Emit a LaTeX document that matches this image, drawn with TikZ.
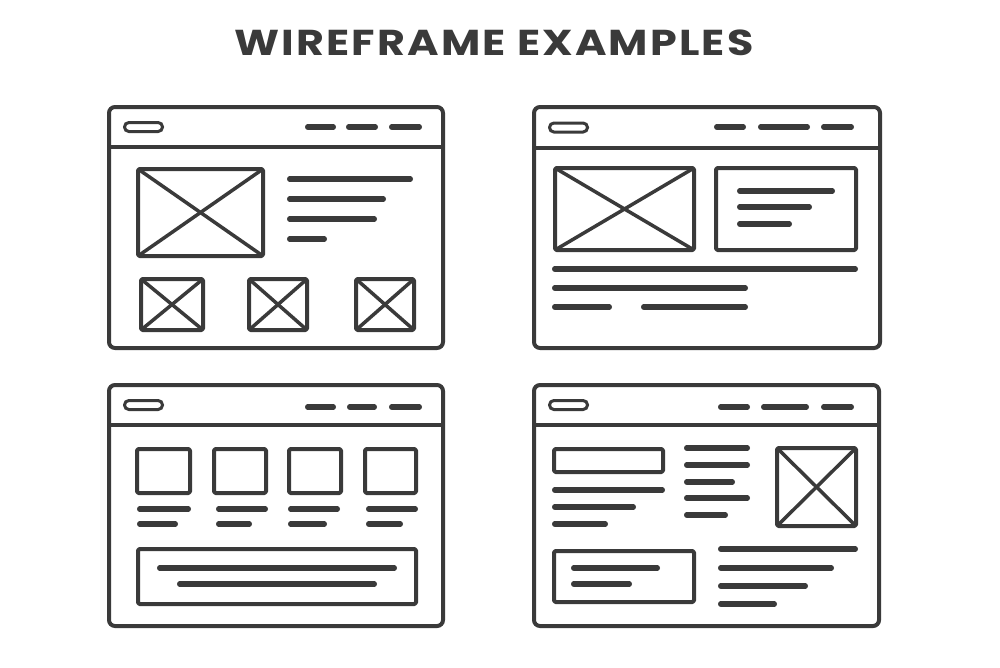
\documentclass[tikz,border=0pt]{standalone}
\usepackage{fontspec}
\newfontfamily\titlefont{Poppins}[LetterSpace=5]
\definecolor{inkCol}{RGB}{58,58,58}
\tikzset{
    frame/.style={draw=inkCol, line width=4pt, rounded corners=6pt},
    divider/.style={draw=inkCol, line width=4pt},
    imgbox/.style={draw=inkCol, line width=4pt, rounded corners=1.5pt, line join=round},
    cross/.style={draw=inkCol, line width=3.5pt},
    pill/.style={draw=inkCol, line width=3pt, rounded corners=4.4pt},
    txtline/.style={draw=inkCol, line width=5.5pt, line cap=round, shorten <=2.75pt, shorten >=2.75pt},
    common settings/.style={x=1pt, y=-1pt}
}
\begin{document}
\begin{tikzpicture}[common settings]
    \useasboundingbox (0,0) rectangle (1000,667);

    % Title
    \node[font=\titlefont\bfseries\fontsize{36}{40}\selectfont, text=inkCol, xscale=1.19] (title) at (494,43) {WIREFRAME EXAMPLES};

    % 1. Browser frames, header bar and logo pill
    \foreach \xl/\yt/\xr/\yb/\yh in {109/107/443/348/147, 534/107/880/348/148, 109/385/443/626/425, 534/385/879/626/425} {
        \draw[frame] (\xl,\yt) rectangle (\xr,\yb);
        \draw[divider] (\xl,\yh) -- (\xr,\yh);
        \pgfmathsetmacro{\ym}{(\yt+\yh)/2}
        \draw[pill] (\xl+15.5,\ym-4.5) rectangle (\xl+53.5,\ym+4.5);
    }

    % 2. Navigation dashes
    \foreach \xa/\xb/\y in {305/336/127, 346/378/127, 389/422/127,
                            714/746/127, 758/810/127, 821/854/127,
                            305/336/407, 347/377/407, 389/422/407,
                            718/750/407, 761/809/407, 821/854/407}
        \draw[txtline] (\xa,\y) -- (\xb,\y);

    % 3. Image placeholders (box with cross)
    \foreach \xa/\ya/\xb/\yb in {138/169/263/256, 141/279/203/330, 249/279/307/330, 356/279/414/330,
                                 555/168/694/250, 777/448/856/526} {
        \draw[imgbox] (\xa,\ya) rectangle (\xb,\yb);
        \draw[cross] (\xa,\ya) -- (\xb,\yb);
        \draw[cross] (\xa,\yb) -- (\xb,\ya);
    }

    % 4. Plain content boxes
    \foreach \xa/\ya/\xb/\yb in {716/168/856/250,
                                 137/449/190/493, 214/449/266/493, 289/449/341/493, 365/449/416/493,
                                 138/549/416/604,
                                 554/449/663/472, 554/551/694/602}
        \draw[imgbox] (\xa,\ya) rectangle (\xb,\yb);

    % 5. Text lines
    % top left
    \foreach \xa/\xb/\y in {287/413/179, 287/386/199, 287/377/219, 287/327/239}
        \draw[txtline] (\xa,\y) -- (\xb,\y);
    % top right
    \foreach \xa/\xb/\y in {737/835/191, 737/812/207, 737/792/224,
                            552/858/269, 552/748/288, 552/612/307, 641/748/307}
        \draw[txtline] (\xa,\y) -- (\xb,\y);
    % bottom left
    \foreach \xa/\xb/\y in {137/191/509, 216/268/509, 288/340/509, 366/418/509,
                            137/178/524, 216/252/524, 288/327/524, 366/403/524,
                            157/397/568, 177/377/584}
        \draw[txtline] (\xa,\y) -- (\xb,\y);
    % bottom right
    \foreach \xa/\xb/\y in {552/665/490, 552/636/507, 552/608/524,
                            684/750/448, 684/750/465, 684/735/482, 684/750/498, 684/728/515,
                            571/660/568, 571/632/584,
                            718/858/549, 718/834/568, 718/808/586, 718/777/604}
        \draw[txtline] (\xa,\y) -- (\xb,\y);

\end{tikzpicture}
\end{document}
